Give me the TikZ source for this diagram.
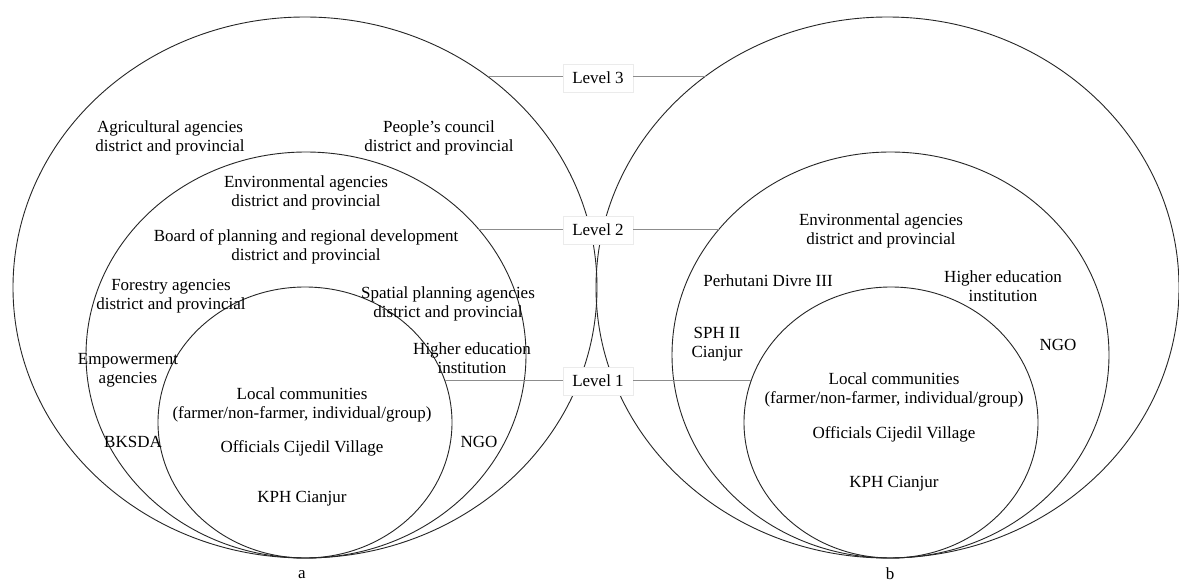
\documentclass[tikz,border=0pt]{standalone}
\usepackage{fontspec}
\setmainfont{Liberation Serif}
\newcommand\lbfont{\fontsize{17}{19}\selectfont}
\begin{document}
\begin{tikzpicture}[x=1pt,y=-1pt,
  ring/.style={draw=black!85, line width=0.9pt},
  levelline/.style={draw=black!45, line width=0.9pt},
  levelbox/.style={draw=black!8, line width=0.5pt, fill=white, minimum width=70pt, minimum height=28pt, inner sep=0pt, font=\lbfont},
  lbl/.style={align=center, inner sep=0pt, font=\lbfont}]
\useasboundingbox (0,0) rectangle (1179,583);
\fill[white] (0,0) rectangle (1179,583);

% level lines free ends
\coordinate (l3a) at (488,76);
\coordinate (l3b) at (706,76);
\coordinate (l2a) at (478,229);
\coordinate (l2b) at (719,229);
\coordinate (l1a) at (445,380);
\coordinate (l1b) at (751,380);

% ellipses (a)
\draw[ring] (305,287.5) ellipse [x radius=292, y radius=270.5];
\draw[ring] (306,355) ellipse [x radius=220, y radius=203];
\draw[ring] (305,422.5) ellipse [x radius=147, y radius=135.5];
% ellipses (b)
\draw[ring] (887.5,287.5) ellipse [x radius=291.5, y radius=270.5];
\draw[ring] (890.5,355) ellipse [x radius=218.5, y radius=203];
\draw[ring] (891,422.5) ellipse [x radius=147, y radius=135.5];

% level labels
\node[levelbox] (lv3) at (598,78) {Level 3};
\node[levelbox] (lv2) at (598,230) {Level 2};
\node[levelbox] (lv1) at (598,381) {Level 1};

\draw[levelline] (l3a) -- (l3a -| lv3.west);
\draw[levelline] (l3b -| lv3.east) -- (l3b);
\draw[levelline] (l2a) -- (l2a -| lv2.west);
\draw[levelline] (l2b -| lv2.east) -- (l2b);
\draw[levelline] (l1a) -- (l1a -| lv1.west);
\draw[levelline] (l1b -| lv1.east) -- (l1b);

% texts (a)
\node[lbl] (agr) at (170,137.5) {Agricultural agencies\\district and provincial};
\node[lbl] (peo) at (439,137.5) {People’s council\\district and provincial};
\node[lbl] (enva) at (306,192.5) {Environmental agencies\\district and provincial};
\node[lbl] (board) at (306,246.5) {Board of planning and regional development\\district and provincial};
\node[lbl] (forest) at (171,296.5) {Forestry agencies\\district and provincial};
\node[lbl] (spatial) at (448,303.5) {Spatial planning agencies\\district and provincial};
\node[lbl] (highera) at (472,358.5) {Higher education\\institution};
\node[lbl] (empow) at (128,370) {Empowerment\\agencies};
\node[lbl] (locala) at (302,404.5) {Local communities\\(farmer/non-farmer, individual/group)};
\node[lbl] (bksda) at (133,442) {BKSDA};
\node[lbl] (ngoa) at (479,442) {NGO};
\node[lbl] (offa) at (302,448) {Officials Cijedil Village};
\node[lbl] (kpha) at (302,499) {KPH Cianjur};
\node[lbl] (capa) at (302,575) {a};

% texts (b)
\node[lbl] (envb) at (881,231) {Environmental agencies\\district and provincial};
\node[lbl] (perh) at (768,281) {Perhutani Divre III};
\node[lbl] (higherb) at (1003,286) {Higher education\\institution};
\node[lbl] (sph) at (717,344.5) {SPH II\\Cianjur};
\node[lbl] (ngob) at (1058,345) {NGO};
\node[lbl] (localb) at (894,390) {Local communities\\(farmer/non-farmer, individual/group)};
\node[lbl] (offb) at (894,434) {Officials Cijedil Village};
\node[lbl] (kphb) at (894,484) {KPH Cianjur};
\node[lbl] (capb) at (890,574) {b};
\end{tikzpicture}
\end{document}
